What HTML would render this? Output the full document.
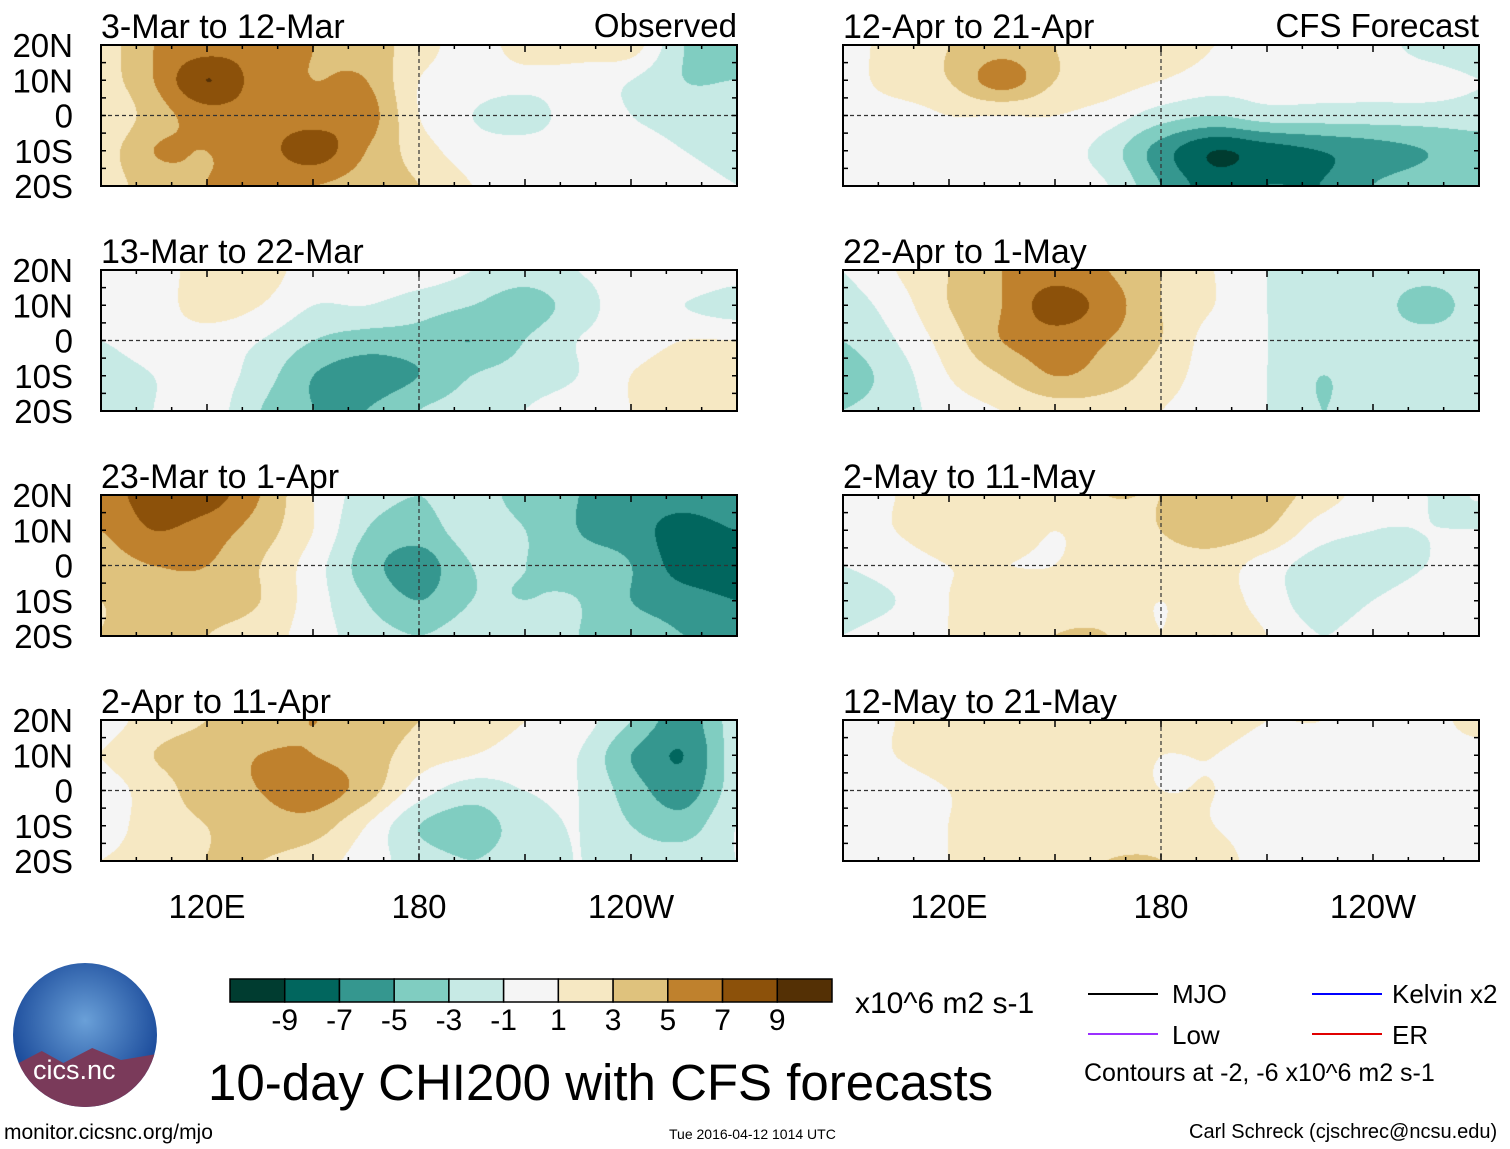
<!DOCTYPE html>
<html><head><meta charset="utf-8">
<style>
body{margin:0;background:#fff;width:1510px;height:1149px;position:relative;overflow:hidden;font-family:"Liberation Sans",sans-serif;}
.t{position:absolute;white-space:nowrap;color:#000;}
canvas{position:absolute;}
</style></head><body>
<svg id="svg" width="1510" height="1149" style="position:absolute;left:0;top:0"></svg>
<script>
// Grid: lon 90..270 step 15, lat 20..-20 step 10
const lons=[90,105,120,135,150,165,180,195,210,225,240,255,270];
const lats=[20,10,0,-10,-20];
const levels=[-9,-7,-5,-3,-1,1,3,5,7,9];
const colors=["#003c30","#01665e","#35978f","#80cdc1","#c7eae5","#f5f5f5","#f6e8c3","#dfc27d","#bf812d","#8c510a","#543005"];
const titles=["3-Mar to 12-Mar","13-Mar to 22-Mar","23-Mar to 1-Apr","2-Apr to 11-Apr","12-Apr to 21-Apr","22-Apr to 1-May","2-May to 11-May","12-May to 21-May"];
const p1=[[2,5,6,6,5,4,2,0,2,2,2,-3,-4],[2,5,9,6,5,5,1,0,0,0,-1,-3,-3],[1,4,6,6,6,6,1,-1,-2,0,-1,-2,-2],[2,5,5,6,8,5,2,0,0,0,0,-1,-2],[2,4,5,5,5,4,3,1,0,0,0,0,-1]];
const p2=[[0,0,2,2,0,0,0,-1,-2,-1,0,1,0],[0,0,2,1,-1,-1,-2,-3,-4,-2,0,-1,-2],[-1,0,0,-1,-3,-4,-4,-5,-3,-1,0,1,1],[-2,-1,0,-2,-5,-6,-5,-3,-2,-1,1,2,2],[-2,-1,0,-3,-5,-5,-3,-2,-1,0,1,2,2]];
const p3=[[6,8,8,5,1,-2,-3,-2,-4,-5,-6,-6,-5],[5,7,6,4,1,-3,-4,-2,-3,-5,-6,-8,-7],[4,5,5,3,0,-4,-6,-3,-3,-4,-5,-8,-8],[3,4,4,3,0,-3,-5,-3,-3,-3,-5,-6,-7],[3,4,3,2,0,-2,-3,-2,-2,-3,-4,-5,-5]];
const p4=[[0,2,3,4,5,4,3,2,1,0,-3,-6,-2],[1,3,4,5,5,4,2,1,0,-1,-5,-7,-2],[0,2,4,5,6,4,0,-2,-1,-1,-4,-6,-2],[0,2,3,4,4,1,-3,-4,-2,-1,-3,-4,-1],[1,2,3,3,2,0,-2,-3,-2,-1,-2,-2,-1]];
const p5=[[0,2,3,4,3,2,2,1,0,0,0,-2,-3],[0,2,3,6,3,2,1,0,0,0,0,0,-1],[0,0,1,1,1,0,-2,-3,-2,-2,-2,-2,-2],[0,0,0,0,0,-2,-6,-9,-8,-7,-6,-5,-4],[0,0,0,0,0,-1,-5,-8,-7,-7,-5,-4,-3]];
const p6=[[-1,1,3,5,6,5,3,1,-1,-2,-2,-2,-2],[-2,0,3,5,8,6,3,1,-1,-2,-2,-4,-2],[-3,-1,2,5,6,5,3,0,-1,-2,-2,-2,-2],[-4,-2,1,3,5,4,2,0,-1,-3,-2,-2,-2],[-3,-2,0,1,2,2,1,0,-1,-3,-2,-2,-1]];
const p7=[[0,1,2,2,2,3,3,4,4,2,0,-1,-1],[0,1,2,2,1,2,3,4,3,0,-1,-1,-1],[-1,0,1,1,1,2,2,2,0,-2,-2,-1,0],[-2,-1,1,2,2,2,1,2,0,-2,-1,0,0],[-1,0,1,2,3,3,1,3,1,-1,0,0,0]];
const p8=[[0,1,2,2,2,2,2,2,1,1,0,0,2],[0,1,2,2,2,2,1,1,0,0,0,0,0],[0,0,1,2,2,2,1,1,0,0,0,0,0],[0,0,1,2,2,2,2,1,0,0,0,0,0],[0,0,1,2,2,3,3,2,0,0,0,0,0]];
const panels=[p1,p2,p3,p4,p5,p6,p7,p8];
const xTicks=[120,180,240], xTickLabels=["120E","180","120W"];
const yTicks=[20,10,0,-10,-20], yTickLabels=["20N","10N","0","10S","20S"];

const W=636,H=141, colX=[101,843], rowY=[45,270,495,720];
const svg=document.getElementById('svg');
const NS="http://www.w3.org/2000/svg";
function el(tag,attrs,parent){const e=document.createElementNS(NS,tag);for(const k in attrs)e.setAttribute(k,attrs[k]);(parent||svg).appendChild(e);return e;}
function lvlColor(v){let i=0;while(i<levels.length&&v>levels[i])i++;return colors[i];}
function cr(p0,p1,p2,p3,t){return 0.5*((2*p1)+(-p0+p2)*t+(2*p0-5*p1+4*p2-p3)*t*t+(-p0+3*p1-3*p2+p3)*t*t*t);}
function gv(g,j,i){j=Math.max(0,Math.min(4,j));i=Math.max(0,Math.min(12,i));return g[j][i];}
function sample(g,lon,lat){
  let fx=(lon-90)/15, fy=(20-lat)/10;
  fx=Math.max(0,Math.min(12,fx)); fy=Math.max(0,Math.min(4,fy));
  const i=Math.min(11,Math.floor(fx)), j=Math.min(3,Math.floor(fy));
  const tx=fx-i, ty=fy-j;
  const r=[];
  for(let dj=-1;dj<=2;dj++){r.push(cr(gv(g,j+dj,i-1),gv(g,j+dj,i),gv(g,j+dj,i+1),gv(g,j+dj,i+2),tx));}
  return cr(r[0],r[1],r[2],r[3],ty)+0.013;
}
function rgb(h){return [parseInt(h.substr(1,2),16),parseInt(h.substr(3,2),16),parseInt(h.substr(5,2),16)];}

panels.forEach((g,k)=>{
  const col=k<4?0:1,row=k%4,x0=colX[col],y0=rowY[row];
  const xs=lon=>x0+(lon-90)/180*W, ys=lat=>y0+(20-lat)/40*H;
  const c=document.createElement('canvas');c.width=W;c.height=H;
  c.style.left=x0+'px';c.style.top=y0+'px';
  
  
  document.body.insertBefore(c,svg);
  const ctx=c.getContext('2d');const img=ctx.createImageData(W,H);
  for(let py=0;py<H;py++)for(let px=0;px<W;px++){
    const v=sample(g,90+(px+0.5)/W*180,20-(py+0.5)/H*40);const cc=rgb(lvlColor(v));
    const o=(py*W+px)*4;img.data[o]=cc[0];img.data[o+1]=cc[1];img.data[o+2]=cc[2];img.data[o+3]=255;
  }
  ctx.putImageData(img,0,0);
  const gp=el('g',{});
  el('line',{x1:xs(180),x2:xs(180),y1:y0,y2:y0+H,stroke:'#333','stroke-width':1.2,'stroke-dasharray':'4,3'},gp);
  el('line',{x1:x0,x2:x0+W,y1:ys(0),y2:ys(0),stroke:'#333','stroke-width':1.2,'stroke-dasharray':'4,3'},gp);
  el('rect',{x:x0,y:y0,width:W,height:H,fill:'none',stroke:'#000','stroke-width':2},gp);
  for(let lon=90;lon<=270;lon+=10){const x=xs(lon);const L=(lon%30===0)?7:4;
    el('line',{x1:x,x2:x,y1:y0,y2:y0+L,stroke:'#000','stroke-width':1.5},gp);
    el('line',{x1:x,x2:x,y1:y0+H,y2:y0+H-L,stroke:'#000','stroke-width':1.5},gp);}
  for(let lat=-20;lat<=20;lat+=5){const y=ys(lat);
    el('line',{x1:x0,x2:x0+5,y1:y,y2:y,stroke:'#000','stroke-width':1.5},gp);
    el('line',{x1:x0+W,x2:x0+W-5,y1:y,y2:y,stroke:'#000','stroke-width':1.5},gp);}
  const t=el('text',{x:x0,y:y0-7,'font-size':34,'font-family':'Liberation Sans'},gp);t.textContent=titles[k];
  
  if(col===0){yTicks.forEach((lat,i)=>{const yt=el('text',{x:73,y:ys(lat)+12,'font-size':33,'text-anchor':'end','font-family':'Liberation Sans'},gp);yt.textContent=yTickLabels[i];
    });}
  if(row===3){xTicks.forEach((lon,i)=>{const xt=el('text',{x:xs(lon),y:918,'font-size':33,'text-anchor':'middle','font-family':'Liberation Sans'},gp);xt.textContent=xTickLabels[i];
    });}
  if(k===0){const o=el('text',{x:737,y:37,'font-size':33,'text-anchor':'end'},gp);o.textContent='Observed';}
  if(k===4){const o=el('text',{x:1479,y:37,'font-size':33,'text-anchor':'end'},gp);o.textContent='CFS Forecast';}
});
const cb=el('g',{});
const bw=602/11;
colors.forEach((c,i)=>{el('rect',{x:230+i*bw,y:979,width:bw,height:23,fill:c,stroke:'#000','stroke-width':1.5},cb);});
levels.forEach((l,i)=>{const t=el('text',{x:230+(i+1)*bw,y:1030,'font-size':30,'text-anchor':'middle'},cb);t.textContent=String(l);});
</script>
<div class="t" style="left:855px;top:987px;font-size:30px">x10^6 m2 s-1</div>
<div class="t" style="left:208px;top:1053px;font-size:51px">10-day CHI200 with CFS forecasts</div>
<div>
<div style="position:absolute;left:1088px;top:993px;width:70px;height:2px;background:#000"></div>
<div class="t" style="left:1172px;top:979px;font-size:26px">MJO</div>
<div style="position:absolute;left:1088px;top:1033px;width:70px;height:2px;background:#9b30ff"></div>
<div class="t" style="left:1172px;top:1020px;font-size:26px">Low</div>
<div style="position:absolute;left:1312px;top:993px;width:70px;height:2px;background:#0000ff"></div>
<div class="t" style="left:1392px;top:979px;font-size:26px">Kelvin x2</div>
<div style="position:absolute;left:1312px;top:1033px;width:70px;height:2px;background:#e00000"></div>
<div class="t" style="left:1392px;top:1020px;font-size:26px">ER</div>
<div class="t" style="left:1084px;top:1059px;font-size:25px">Contours at -2, -6 x10^6 m2 s-1</div>
</div>
<div style="position:absolute;left:13px;top:963px;width:144px;height:144px;border-radius:50%;background:radial-gradient(circle at 50% 40%,#6aa0d8,#1a4a9a 70%,#163a80);overflow:hidden">
<div style="position:absolute;left:0;top:85px;width:144px;height:60px;background:#7a3a5a;clip-path:polygon(0 30%,20% 5%,35% 25%,55% 0,75% 20%,100% 10%,100% 100%,0 100%)"></div>
<div class="t" style="left:20px;top:92px;font-size:27px;color:#fff">cics.nc</div>
</div>
<div class="t" style="left:4px;top:1121px;font-size:21px">monitor.cicsnc.org/mjo</div>
<div class="t" style="left:669px;top:1126px;font-size:14px">Tue 2016-04-12 1014 UTC</div>
<div class="t" style="left:1189px;top:1121px;font-size:20px">Carl Schreck (cjschrec@ncsu.edu)</div>
</body></html>
